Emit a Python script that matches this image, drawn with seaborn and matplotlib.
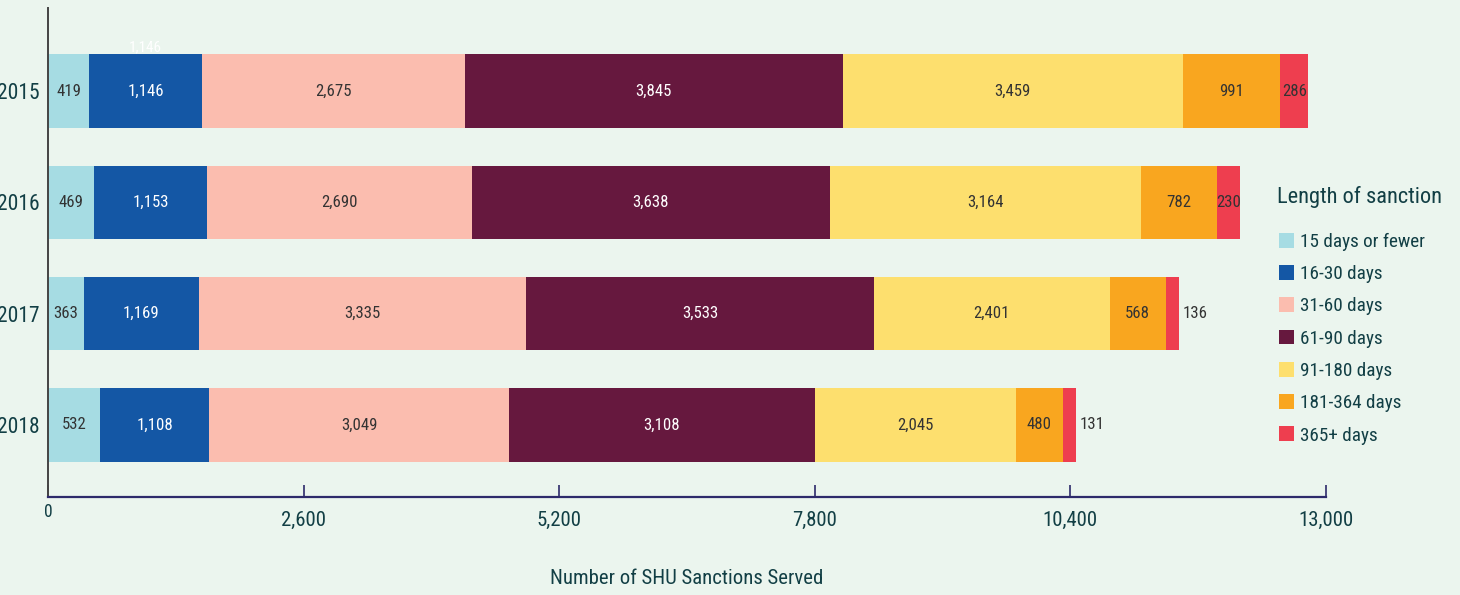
import matplotlib
matplotlib.use("Agg")
import matplotlib.pyplot as plt
from matplotlib import font_manager
from matplotlib.patches import Patch
import pandas as pd
import seaborn as sns

years = ["2015", "2016", "2017", "2018"]
categories = ["15 days or fewer", "16-30 days", "31-60 days", "61-90 days",
              "91-180 days", "181-364 days", "365+ days"]
d_15 = [419, 469, 363, 532]
d_16_30 = [1146, 1153, 1169, 1108]
d_31_60 = [2675, 2690, 3335, 3049]
d_61_90 = [3845, 3638, 3533, 3108]
d_91_180 = [3459, 3164, 2401, 2045]
d_181_364 = [991, 782, 568, 480]
d_365 = [286, 230, 136, 131]
xticks = [0, 2600, 5200, 7800, 10400, 13000]

colors = ["#a6dce3", "#1457a5", "#fbbdaf", "#66183e", "#fddf6e", "#f9a61f", "#ee3e4f"]
label_colors = ["#333333", "white", "#333333", "white", "#333333", "#333333", "#333333"]
BG = "#ebf5ee"
TXT = "#123f45"

sns.set_theme(style="white")

# prefer a condensed face if one is around, otherwise Roboto
installed = {f.name for f in font_manager.fontManager.ttflist}
family, k = "Roboto", 1.0
for cand in ["Roboto Condensed", "Liberation Sans Narrow", "Open Sans Condensed"]:
    if cand in installed:
        family, k = cand, 1.15
        break
plt.rcParams["font.family"] = [family, "DejaVu Sans"]

df = pd.DataFrame(dict(zip(categories, [d_15, d_16_30, d_31_60, d_61_90,
                                        d_91_180, d_181_364, d_365])), index=years)
cum = df.cumsum(axis=1)

fig = plt.figure(figsize=(14.6, 5.95), dpi=100, facecolor=BG)
ax = fig.add_axes([48 / 1460, 1 - 497 / 595, 1278 / 1460, 489 / 595])
ax.set_facecolor(BG)

# stacked look: draw cumulative totals from longest to shortest
for cat, col in reversed(list(zip(categories, colors))):
    sns.barplot(x=cum[cat].values, y=years, orient="h", color=col,
                saturation=1, width=0.66, ax=ax, linewidth=0)

ax.set_xlim(0, 13000)
ax.set_ylim(3.647, -0.746)

# segment labels
for i, yr in enumerate(years):
    for j, cat in enumerate(categories):
        val = df.loc[yr, cat]
        right = cum.loc[yr, cat]
        if cat == "365+ days" and val < 200:
            ax.text(right + 40, i, f"{val:,}", ha="left", va="center",
                    fontsize=10.5 * k, color="#333333")
        else:
            ax.text(right - val / 2, i, f"{val:,}", ha="center", va="center",
                    fontsize=10.5 * k, color=label_colors[j])

# stray label above the first bar, as in the original
ax.text(d_15[0] + d_16_30[0] / 2, -0.39, f"{d_16_30[0]:,}", ha="center",
        va="center", fontsize=9.5 * k, color="white")

ax.set_xticks(xticks)
ax.set_xticklabels([""] + [f"{t:,}" for t in xticks[1:]])
ax.text(0, -0.012, "0", transform=ax.get_xaxis_transform(), ha="center",
        va="top", fontsize=11 * k, color=TXT)
ax.tick_params(axis="x", direction="in", length=9, width=1.2, color="#2d2a6b",
               labelsize=13 * k, labelcolor=TXT, pad=10, bottom=True)
ax.tick_params(axis="y", length=0, labelsize=13.5 * k, labelcolor=TXT, pad=6)

for s in ["top", "right"]:
    ax.spines[s].set_visible(False)
ax.spines["bottom"].set_color("#2d2a6b")
ax.spines["bottom"].set_linewidth(1.6)
ax.spines["left"].set_color("#444444")
ax.spines["left"].set_linewidth(1.4)

ax.set_ylabel("")
ax.set_xlabel("")
fig.text(687 / 1460, 1 - 578 / 595, "Number of SHU Sanctions Served",
         ha="center", va="center", fontsize=13 * k, color=TXT)

# legend
fig.text(1277 / 1460, 1 - 197 / 595, "Length of sanction", ha="left",
         va="center", fontsize=14 * k, color=TXT)
handles = [Patch(facecolor=c, edgecolor="none", label=l) for c, l in zip(colors, categories)]
leg = fig.legend(handles=handles, loc="upper left", borderaxespad=0,
                 bbox_to_anchor=(1271 / 1460, 1 - 225 / 595), frameon=False,
                 fontsize=12 * k, handlelength=0.82, handleheight=0.82,
                 handletextpad=0.3, labelspacing=0.74)
for t in leg.get_texts():
    t.set_color(TXT)

fig.savefig("out.png", dpi=100, facecolor=BG)
